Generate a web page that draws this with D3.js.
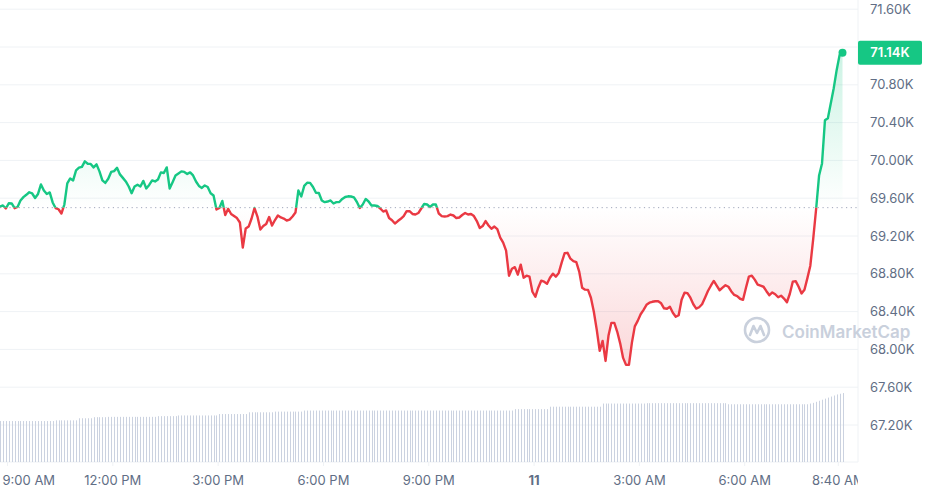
<!DOCTYPE html>
<html>
<head>
<meta charset="utf-8">
<script src="https://cdn.jsdelivr.net/npm/d3@7"></script>
<style>
  html, body { margin: 0; padding: 0; background: #fff; }
  svg { display: block; font-family: Inter, "Noto Sans", sans-serif; }
</style>
</head>
<body>
<div id="chart"></div>
<script>
// 5 minute candles, 10 Apr 08:48 -> 11 Apr 08:48
const startTime = new Date(2024, 3, 10, 8, 48);
const stepMinutes = 5;
const openPrice = 69500;
const lastLabel = "71.14K";

const prices = [
  69512, 69523, 69491, 69547, 69544, 69494, 69507, 69576, 69611, 69636, 69663, 69650,
  69602, 69645, 69746, 69682, 69645, 69661, 69555, 69496, 69483, 69438, 69533, 69756,
  69809, 69788, 69894, 69923, 69931, 69990, 69965, 69963, 69926, 69958, 69884, 69788,
  69762, 69806, 69878, 69887, 69921, 69852, 69815, 69777, 69724, 69653, 69724, 69742,
  69724, 69783, 69703, 69740, 69788, 69777, 69798, 69873, 69867, 69926, 69703, 69770,
  69841, 69862, 69884, 69878, 69857, 69873, 69841, 69777, 69730, 69709, 69735, 69719,
  69653, 69629, 69480, 69496, 69571, 69422, 69488, 69433, 69411, 69390, 69343, 69077,
  69279, 69300, 69385, 69496, 69406, 69268, 69305, 69327, 69401, 69311, 69369, 69417,
  69396, 69385, 69364, 69374, 69406, 69448, 69682, 69618, 69730, 69764, 69762, 69719,
  69658, 69655, 69576, 69558, 69565, 69576, 69544, 69558, 69560, 69592, 69613, 69620,
  69618, 69608, 69560, 69496, 69533, 69592, 69565, 69523, 69523, 69518, 69491, 69459,
  69470, 69390, 69367, 69332, 69358, 69382, 69411, 69462, 69462, 69433, 69427, 69443,
  69491, 69539, 69533, 69507, 69533, 69533, 69438, 69411, 69406, 69411, 69427, 69417,
  69390, 69396, 69422, 69443, 69427, 69433, 69411, 69358, 69284, 69305, 69358, 69311,
  69276, 69300, 69273, 69183, 69130, 69045, 68780, 68854, 68870, 68791, 68897, 68759,
  68780, 68770, 68610, 68557, 68653, 68727, 68716, 68695, 68759, 68801, 68770, 68809,
  68918, 69017, 69022, 68960, 68934, 68923, 68823, 68653, 68632, 68630, 68547, 68398,
  68207, 67984, 68090, 67878, 68144, 68281, 68281, 68186, 68064, 67910, 67836, 67836,
  68069, 68244, 68302, 68372, 68419, 68472, 68494, 68504, 68510, 68510, 68488, 68435,
  68430, 68451, 68388, 68345, 68361, 68526, 68600, 68595, 68547, 68478, 68432, 68446,
  68478, 68547, 68618, 68674, 68724, 68674, 68626, 68653, 68679, 68663, 68613, 68576,
  68564, 68536, 68525, 68653, 68770, 68780, 68738, 68685, 68674, 68663, 68616, 68573,
  68603, 68584, 68552, 68568, 68538, 68499, 68589, 68716, 68722, 68663, 68592, 68632,
  68754, 68886, 69173, 69491, 69841, 69968, 70424, 70446, 70605, 70764, 70955, 71114,
  71140
];

// rolling 24h volume, $B
const volumes = [
  31.7, 31.7, 31.7, 31.7, 31.7, 31.7, 31.7, 31.7, 31.7, 31.7, 31.7, 31.7,
  31.7, 31.7, 31.7, 31.7, 31.7, 31.7, 31.7, 31.9, 31.9, 31.9, 31.9, 31.9,
  31.9, 31.9, 31.9, 32.5, 32.5, 32.5, 32.5, 32.5, 32.8, 32.8, 32.8, 32.8,
  32.8, 32.9, 32.9, 32.9, 32.9, 32.9, 32.9, 32.9, 32.9, 32.9, 32.9, 32.9,
  32.9, 32.9, 32.9, 32.9, 32.9, 32.9, 33.1, 33.1, 33.1, 33.1, 33.1, 33.1,
  33.1, 33.3, 33.3, 33.3, 33.3, 33.3, 33.3, 33.3, 33.3, 33.3, 33.3, 33.3,
  33.3, 33.3, 33.3, 33.7, 33.7, 33.7, 33.7, 33.7, 33.7, 33.7, 33.7, 33.7,
  33.7, 34.2, 34.2, 34.2, 34.2, 34.2, 34.2, 34.2, 34.2, 34.2, 34.4, 34.4,
  34.4, 34.4, 34.4, 34.4, 34.4, 34.4, 34.4, 34.4, 34.7, 34.7, 34.7, 34.7,
  34.7, 34.7, 34.7, 34.7, 34.7, 34.7, 34.7, 34.7, 34.7, 34.7, 34.7, 34.7,
  34.7, 34.7, 34.7, 34.7, 34.7, 34.7, 34.7, 34.7, 34.7, 34.7, 34.7, 34.7,
  34.7, 34.7, 34.7, 34.7, 34.7, 34.7, 34.7, 34.7, 34.7, 34.7, 34.7, 34.7,
  34.7, 34.7, 34.7, 34.7, 34.7, 34.7, 34.7, 34.7, 34.7, 34.7, 34.7, 34.7,
  34.7, 34.7, 34.7, 34.7, 34.7, 34.7, 34.7, 34.7, 34.7, 34.7, 34.7, 34.7,
  34.7, 34.7, 34.7, 34.7, 34.7, 34.7, 34.7, 34.7, 35.1, 35.1, 35.1, 35.1,
  35.1, 35.1, 35.1, 35.1, 35.1, 35.1, 35.1, 35.1, 35.8, 35.8, 35.8, 35.8,
  35.8, 35.8, 35.8, 35.8, 35.8, 35.8, 35.8, 35.8, 35.8, 35.8, 35.8, 35.8,
  35.8, 35.8, 36.7, 36.7, 36.7, 36.7, 36.7, 36.7, 36.7, 36.7, 36.7, 36.7,
  36.7, 36.7, 36.7, 36.7, 36.7, 36.8, 36.8, 36.8, 36.8, 36.8, 36.8, 36.8,
  36.8, 36.8, 36.8, 36.8, 36.8, 36.8, 36.8, 36.8, 36.8, 36.8, 36.8, 36.8,
  36.8, 36.8, 36.8, 36.8, 36.8, 36.8, 36.8, 36.8, 36.8, 36.5, 36.5, 36.5,
  36.5, 36.5, 36.5, 36.5, 36.5, 36.5, 36.5, 36.5, 36.5, 36.5, 36.5, 36.5,
  36.5, 36.5, 36.5, 36.5, 36.5, 36.5, 36.5, 36.5, 36.5, 36.5, 36.5, 36.5,
  36.5, 36.7, 36.9, 37.2, 37.5, 37.8, 38.1, 38.4, 38.7, 39.0, 39.3, 39.5,
  39.7
];

const yTicks = [67200, 67600, 68000, 68400, 68800, 69200, 69600, 70000, 70400, 70800, 71200, 71600];

const xTickTimes = [
  new Date(2024, 3, 10, 9, 0), new Date(2024, 3, 10, 12, 0), new Date(2024, 3, 10, 15, 0),
  new Date(2024, 3, 10, 18, 0), new Date(2024, 3, 10, 21, 0), new Date(2024, 3, 11, 0, 0),
  new Date(2024, 3, 11, 3, 0), new Date(2024, 3, 11, 6, 0), new Date(2024, 3, 11, 8, 40)
];
const xTickLabels = ["9:00 AM", "12:00 PM", "3:00 PM", "6:00 PM", "9:00 PM", "11", "3:00 AM", "6:00 AM", "8:40 AM"];

const width = 928, height = 495;
const plotRight = 858, plotBottom = 462;
const green = "#16c784", red = "#ea3943";

const data = prices.map((p, i) => ({
  t: new Date(startTime.getTime() + i * stepMinutes * 60000),
  price: p,
  vol: volumes[i]
}));

const svg = d3.select("#chart").append("svg")
  .attr("width", width)
  .attr("height", height)
  .attr("viewBox", `0 0 ${width} ${height}`);

const xScale = d3.scaleTime()
  .domain([startTime, new Date(startTime.getTime() + 24 * 3600000)])
  .range([0, 842.5]);
const yScale = d3.scaleLinear().domain([67200, 71600]).range([425, 9.2]);
const volScale = d3.scaleLinear().domain([20, 40]).range([plotBottom, 392]);

const baseY = yScale(openPrice);
const last = data[data.length - 1];
const lastY = yScale(last.price);

const defs = svg.append("defs");
defs.append("clipPath").attr("id", "clip-up")
  .append("rect").attr("x", 0).attr("y", 0).attr("width", plotRight).attr("height", baseY);
defs.append("clipPath").attr("id", "clip-down")
  .append("rect").attr("x", 0).attr("y", baseY).attr("width", plotRight).attr("height", plotBottom - baseY);
defs.append("clipPath").attr("id", "clip-plot")
  .append("rect").attr("x", 0).attr("y", 0).attr("width", plotRight).attr("height", height);

const gUp = defs.append("linearGradient").attr("id", "grad-up")
  .attr("gradientUnits", "userSpaceOnUse")
  .attr("x1", 0).attr("x2", 0)
  .attr("y1", yScale(d3.max(prices))).attr("y2", baseY);
gUp.append("stop").attr("offset", 0).attr("stop-color", green).attr("stop-opacity", 0.22);
gUp.append("stop").attr("offset", 1).attr("stop-color", green).attr("stop-opacity", 0);

const gDown = defs.append("linearGradient").attr("id", "grad-down")
  .attr("gradientUnits", "userSpaceOnUse")
  .attr("x1", 0).attr("x2", 0)
  .attr("y1", baseY).attr("y2", yScale(d3.min(prices)));
gDown.append("stop").attr("offset", 0).attr("stop-color", red).attr("stop-opacity", 0);
gDown.append("stop").attr("offset", 1).attr("stop-color", red).attr("stop-opacity", 0.2);

// grid
svg.append("g")
  .selectAll("line")
  .data(yTicks)
  .join("line")
  .attr("x1", 0).attr("x2", plotRight)
  .attr("y1", d => yScale(d)).attr("y2", d => yScale(d))
  .attr("stroke", "#eff2f5");

svg.append("line")
  .attr("x1", plotRight).attr("x2", plotRight)
  .attr("y1", 0).attr("y2", plotBottom)
  .attr("stroke", "#eff2f5");
svg.append("line")
  .attr("x1", 0).attr("x2", plotRight)
  .attr("y1", plotBottom).attr("y2", plotBottom)
  .attr("stroke", "#eff2f5");

// volume bars
svg.append("g")
  .selectAll("line")
  .data(data)
  .join("line")
  .attr("x1", d => Math.round(xScale(d.t)) + 0.5)
  .attr("x2", d => Math.round(xScale(d.t)) + 0.5)
  .attr("y1", plotBottom)
  .attr("y2", d => volScale(d.vol))
  .attr("stroke", "#cbd2e0")
  .attr("stroke-width", 1);

// watermark
const wm = svg.append("g").attr("transform", "translate(757,330)");
wm.append("circle").attr("r", 12).attr("fill", "none").attr("stroke", "#c9d0dc").attr("stroke-width", 2.6);
wm.append("path")
  .attr("d", "M-7,5 L-3.5,-4 L0,3 L3.5,-4 L7,5")
  .attr("fill", "none").attr("stroke", "#c9d0dc").attr("stroke-width", 2.6)
  .attr("stroke-linejoin", "round").attr("stroke-linecap", "round");
svg.append("text")
  .attr("x", 782).attr("y", 338)
  .attr("fill", "#c9d0dc")
  .style("font-size", "17px")
  .style("font-weight", 600)
  .text("CoinMarketCap");

// areas
const area = d3.area()
  .x(d => xScale(d.t))
  .y0(baseY)
  .y1(d => yScale(d.price));
const line = d3.line()
  .x(d => xScale(d.t))
  .y(d => yScale(d.price));

svg.append("path").datum(data)
  .attr("d", area).attr("fill", "url(#grad-up)").attr("clip-path", "url(#clip-up)");
svg.append("path").datum(data)
  .attr("d", area).attr("fill", "url(#grad-down)").attr("clip-path", "url(#clip-down)");

// open price reference
svg.append("line")
  .attr("x1", 0).attr("x2", plotRight)
  .attr("y1", baseY).attr("y2", baseY)
  .attr("stroke", "#a1a7bb")
  .attr("stroke-width", 1)
  .attr("stroke-dasharray", "1.2,3.5");

svg.append("path").datum(data)
  .attr("d", line).attr("fill", "none")
  .attr("stroke", green).attr("stroke-width", 2.4)
  .attr("stroke-linejoin", "round")
  .attr("clip-path", "url(#clip-up)");
svg.append("path").datum(data)
  .attr("d", line).attr("fill", "none")
  .attr("stroke", red).attr("stroke-width", 2.4)
  .attr("stroke-linejoin", "round")
  .attr("clip-path", "url(#clip-down)");

svg.append("circle")
  .attr("cx", xScale(last.t)).attr("cy", lastY)
  .attr("r", 4).attr("fill", green);

// y axis labels (the one hidden under the price badge is skipped)
const yAxis = svg.append("g")
  .attr("transform", `translate(870,0)`)
  .call(d3.axisRight(yScale)
    .tickValues(yTicks.filter(d => Math.abs(yScale(d) - lastY) > 14))
    .tickSize(0).tickPadding(0)
    .tickFormat(d => (d / 1000).toFixed(2) + "K"));
yAxis.select(".domain").remove();
yAxis.selectAll("text")
  .attr("fill", "#616e85")
  .style("font-size", "13px")
  .style("font-family", "Inter, sans-serif");

// current price badge
svg.append("rect")
  .attr("x", plotRight).attr("y", lastY - 12)
  .attr("width", 64).attr("height", 24)
  .attr("rx", 2)
  .attr("fill", green);
svg.append("text")
  .attr("x", plotRight + 32).attr("y", lastY)
  .attr("dy", "0.35em")
  .attr("text-anchor", "middle")
  .attr("fill", "#fff")
  .style("font-size", "13px")
  .style("font-weight", 600)
  .text(lastLabel);

// x axis
const xAxis = svg.append("g")
  .attr("transform", `translate(0,${plotBottom})`)
  .attr("clip-path", "url(#clip-plot)")
  .call(d3.axisBottom(xScale).tickValues(xTickTimes).tickSize(4).tickPadding(10)
    .tickFormat((d, i) => xTickLabels[i]));
xAxis.select(".domain").remove();
xAxis.selectAll(".tick line").attr("stroke", "#eff2f5");
xAxis.selectAll("text")
  .attr("fill", "#616e85")
  .style("font-size", "13px")
  .style("font-family", "Inter, sans-serif")
  .style("font-weight", (d, i) => xTickLabels[i] == "11" ? 700 : 400);
// first label is pushed in so it is not cut at the left edge
xAxis.selectAll("text").filter((d, i) => i == 0)
  .attr("text-anchor", "start")
  .attr("x", -5);
</script>
</body>
</html>
